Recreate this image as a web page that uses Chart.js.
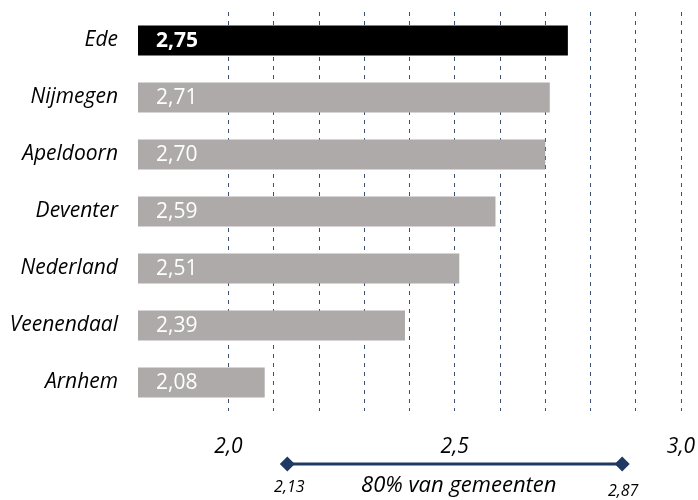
<!DOCTYPE html>
<html lang="nl">
<head>
<meta charset="utf-8">
<title>Score per gemeente</title>
<script src="https://cdn.jsdelivr.net/npm/chart.js@4/dist/chart.umd.min.js"></script>
<style>
  html, body { margin: 0; padding: 0; background: #fff; }
  #wrap { width: 698px; height: 500px; }
</style>
</head>
<body>
<div id="wrap"><canvas id="chart" width="698" height="500"></canvas></div>
<script>
// Gemeenten en hun score
const categories = ['Ede', 'Nijmegen', 'Apeldoorn', 'Deventer', 'Nederland', 'Veenendaal', 'Arnhem'];
const scores = [2.75, 2.71, 2.70, 2.59, 2.51, 2.39, 2.08];
const highlighted = ['Ede'];

// Bandbreedte waarbinnen 80% van de gemeenten valt
const rangeBounds = [2.13, 2.87];
const rangeLabel = '80% van gemeenten';

// As: bereik, rasterstap en gelabelde waarden
const axisRange = [1.8, 3.0];
const gridStep = 0.1;
const labelledTicks = [2.0, 2.5, 3.0];

const FONT = '"Open Sans", "Noto Sans", sans-serif';
const NAVY = '#203864';
const GRID = '#3b4f72';
const GREY = '#aeaaaa';

const fmt = (v, d) => v.toFixed(d).replace('.', ',');

// Waarde in de balk, links uitgelijnd
const valueLabels = {
  id: 'valueLabels',
  afterDatasetsDraw(chart) {
    const ctx = chart.ctx;
    const meta = chart.getDatasetMeta(0);
    const x0 = chart.scales.x.getPixelForValue(axisRange[0]);
    ctx.save();
    ctx.textAlign = 'left';
    ctx.textBaseline = 'middle';
    ctx.fillStyle = '#ffffff';
    meta.data.forEach((bar, i) => {
      const bold = highlighted.includes(categories[i]);
      ctx.font = (bold ? 'bold ' : '') + '21px ' + FONT;
      ctx.fillText(fmt(scores[i], 2), x0 + 18, bar.y + 1);
    });
    ctx.restore();
  }
};

// Bandbreedte onder de as: lijn met ruitjes en labels
const rangeIndicator = {
  id: 'rangeIndicator',
  afterDraw(chart) {
    const ctx = chart.ctx;
    const x = chart.scales.x;
    const x0 = x.getPixelForValue(rangeBounds[0]);
    const x1 = x.getPixelForValue(rangeBounds[1]);
    const y = chart.chartArea.bottom + 53;
    ctx.save();
    ctx.strokeStyle = NAVY;
    ctx.lineWidth = 3;
    ctx.beginPath();
    ctx.moveTo(x0, y);
    ctx.lineTo(x1, y);
    ctx.stroke();
    ctx.fillStyle = NAVY;
    [x0, x1].forEach(px => {
      const r = 7.5;
      ctx.beginPath();
      ctx.moveTo(px, y - r);
      ctx.lineTo(px + r, y);
      ctx.lineTo(px, y + r);
      ctx.lineTo(px - r, y);
      ctx.closePath();
      ctx.fill();
    });
    ctx.fillStyle = '#000';
    ctx.textAlign = 'center';
    ctx.textBaseline = 'middle';
    ctx.font = 'italic 16px ' + FONT;
    ctx.fillText(fmt(rangeBounds[0], 2), x0 + 2, y + 23);
    ctx.fillText(fmt(rangeBounds[1], 2), x1 + 1, y + 27);
    ctx.font = 'italic 22px ' + FONT;
    ctx.fillText(rangeLabel, (x0 + x1) / 2 + 4, y + 22);
    ctx.restore();
  }
};

new Chart(document.getElementById('chart'), {
  type: 'bar',
  data: {
    labels: categories,
    datasets: [{
      data: scores,
      backgroundColor: categories.map(c => highlighted.includes(c) ? '#000000' : GREY),
      borderWidth: 0,
      barPercentage: 0.53,
      categoryPercentage: 1.0
    }]
  },
  options: {
    indexAxis: 'y',
    responsive: false,
    devicePixelRatio: 1,
    animation: false,
    layout: { padding: { top: 12, right: 17, bottom: 0, left: 0 } },
    plugins: {
      legend: { display: false },
      tooltip: { enabled: false }
    },
    scales: {
      x: {
        min: axisRange[0],
        max: axisRange[1],
        grid: {
          drawTicks: false,
          lineWidth: 1,
          color: c => (c.tick && c.tick.value > labelledTicks[0] - gridStep / 2) ? GRID : 'rgba(0,0,0,0)'
        },
        border: { display: false, dash: [4, 5] },
        ticks: {
          stepSize: gridStep,
          autoSkip: false,
          maxRotation: 0,
          padding: 23,
          color: '#000',
          font: { family: FONT, size: 21, style: 'italic' },
          callback: v => labelledTicks.some(t => Math.abs(t - v) < 1e-6) ? fmt(v, 1) : ''
        },
        afterFit: s => { s.height = 89; s.paddingLeft = 0; s.paddingRight = 0; }
      },
      y: {
        border: { display: false },
        grid: { display: false },
        ticks: {
          padding: 12,
          color: '#000',
          font: { family: FONT, size: 21, style: 'italic' }
        },
        afterFit: s => { s.width = 138; s.paddingTop = 0; s.paddingBottom = 0; }
      }
    }
  },
  plugins: [valueLabels, rangeIndicator]
});
</script>
</body>
</html>
